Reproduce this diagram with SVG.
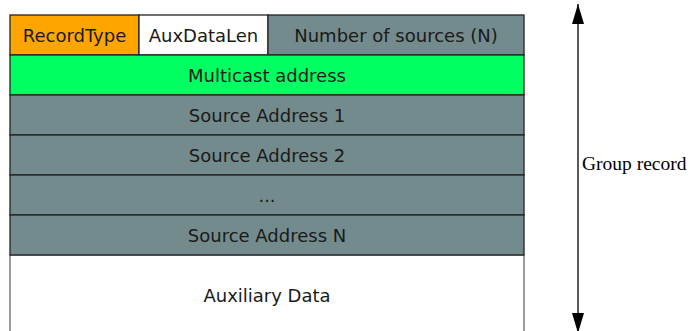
<svg xmlns="http://www.w3.org/2000/svg" width="694" height="331" viewBox="0 0 694 331">
<defs>
<style>
.cell{stroke:#222;stroke-width:1.3}
.gray{fill:#738b8c}
.lbl{font-family:"DejaVu Sans",sans-serif;font-size:18px;fill:#1a1a1a;text-anchor:middle}
.side{font-family:"Liberation Serif",serif;font-size:19.5px;fill:#000}
</style>
<marker id="ahb" viewBox="0 0 20 12" refX="20" refY="6" markerWidth="20" markerHeight="12" markerUnits="userSpaceOnUse" orient="auto">
<path d="M0,0 L20,6 L0,12 Z" fill="#000"/>
</marker>
</defs>
<rect width="694" height="331" fill="#fff"/>
<g id="aux">
<rect x="10" y="255" width="514" height="90" fill="#fff" stroke="#666" stroke-width="1.3"/>
<text class="lbl" x="267" y="302">Auxiliary Data</text>
</g>
<g id="recordtype">
<rect class="cell" x="10" y="15" width="129" height="40" fill="#ffa500"/>
<text class="lbl" x="74.5" y="41.5">RecordType</text>
</g>
<g id="auxdatalen">
<rect class="cell" x="139" y="15" width="129" height="40" fill="#fff"/>
<text class="lbl" x="203.5" y="41.5">AuxDataLen</text>
</g>
<g id="numsources">
<rect class="cell gray" x="268" y="15" width="256" height="40"/>
<text class="lbl" x="396" y="41.5">Number of sources (N)</text>
</g>
<g id="multicast">
<rect class="cell" x="10" y="55" width="514" height="40" fill="#00ff60"/>
<text class="lbl" x="267" y="81.5">Multicast address</text>
</g>
<g id="src1">
<rect class="cell gray" x="10" y="95" width="514" height="40"/>
<text class="lbl" x="267" y="121.5">Source Address 1</text>
</g>
<g id="src2">
<rect class="cell gray" x="10" y="135" width="514" height="40"/>
<text class="lbl" x="267" y="161.5">Source Address 2</text>
</g>
<g id="dots">
<rect class="cell gray" x="10" y="175" width="514" height="40"/>
<text class="lbl" x="267" y="201.5">...</text>
</g>
<g id="srcN">
<rect class="cell gray" x="10" y="215" width="514" height="40"/>
<text class="lbl" x="267" y="241.5">Source Address N</text>
</g>
<g id="connectors">
<line x1="578" y1="168" x2="578" y2="4" stroke="#000" stroke-width="1.3" marker-end="url(#ahb)"/>
<line x1="578" y1="168" x2="578" y2="333" stroke="#000" stroke-width="1.3" marker-end="url(#ahb)"/>
</g>
<g id="label">
<text class="side" x="582" y="170">Group record</text>
</g>
</svg>
